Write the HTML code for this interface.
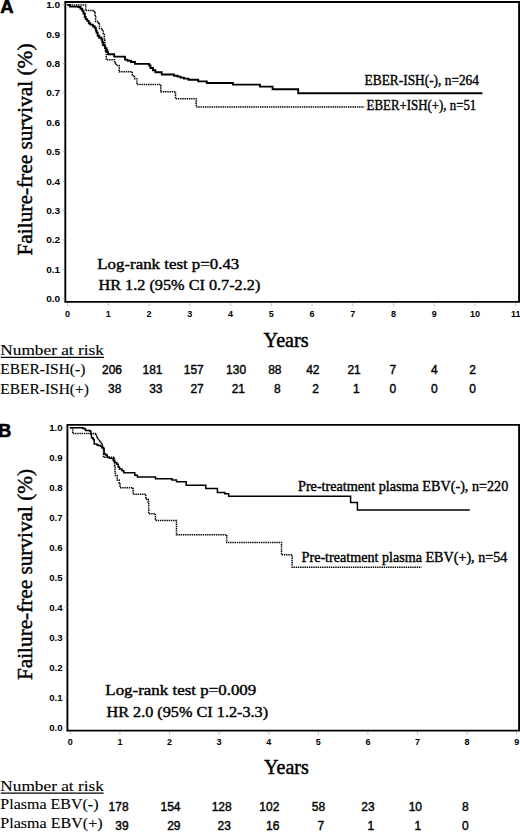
<!DOCTYPE html>
<html><head><meta charset="utf-8"><style>
html,body{margin:0;padding:0;background:#fff;}
body{width:520px;height:832px;overflow:hidden;}
svg{display:block;}
.tk{font-family:'Liberation Sans', sans-serif;font-weight:bold;font-size:9px;fill:#000;}
.tm{stroke:#aaa;stroke-width:0.8;}
.sf{font-family:'Liberation Serif', serif;fill:#000;stroke:#000;stroke-width:0.4;}
.st{stroke-width:0.45;}
.tl{stroke-width:0.12;}
.nr{font-family:'Liberation Sans', sans-serif;font-size:12px;fill:#000;stroke:#000;stroke-width:0.4;}
.fr{fill:none;stroke:#000;stroke-width:1.9;}
.sol{fill:none;stroke:#000;stroke-width:1.9;}
.dsh{fill:none;stroke:#000;stroke-width:1.5;stroke-dasharray:1.4 0.8;}
</style></head><body>
<svg width="520" height="832" viewBox="0 0 520 832">
<rect width="520" height="832" fill="#fff"/>
<!-- Panel A -->
<text x="0.2" y="12.6" style="font-family:'Liberation Sans', sans-serif;font-weight:bold;font-size:18.5px;fill:#000;stroke:#000;stroke-width:0.6">A</text>
<path class="fr" d="M65.3 301.9V2H519.1V301.9Z"/>
<text x="60.2" y="302.1" text-anchor="end" class="tk" textLength="14.0" lengthAdjust="spacingAndGlyphs">0.0</text>
<line x1="62.4" y1="298.7" x2="64.8" y2="298.7" class="tm"/>
<text x="60.2" y="272.7" text-anchor="end" class="tk" textLength="14.0" lengthAdjust="spacingAndGlyphs">0.1</text>
<line x1="62.4" y1="269.3" x2="64.8" y2="269.3" class="tm"/>
<text x="60.2" y="243.3" text-anchor="end" class="tk" textLength="14.0" lengthAdjust="spacingAndGlyphs">0.2</text>
<line x1="62.4" y1="239.9" x2="64.8" y2="239.9" class="tm"/>
<text x="60.2" y="214.0" text-anchor="end" class="tk" textLength="14.0" lengthAdjust="spacingAndGlyphs">0.3</text>
<line x1="62.4" y1="210.6" x2="64.8" y2="210.6" class="tm"/>
<text x="60.2" y="184.6" text-anchor="end" class="tk" textLength="14.0" lengthAdjust="spacingAndGlyphs">0.4</text>
<line x1="62.4" y1="181.2" x2="64.8" y2="181.2" class="tm"/>
<text x="60.2" y="155.2" text-anchor="end" class="tk" textLength="14.0" lengthAdjust="spacingAndGlyphs">0.5</text>
<line x1="62.4" y1="151.8" x2="64.8" y2="151.8" class="tm"/>
<text x="60.2" y="125.8" text-anchor="end" class="tk" textLength="14.0" lengthAdjust="spacingAndGlyphs">0.6</text>
<line x1="62.4" y1="122.4" x2="64.8" y2="122.4" class="tm"/>
<text x="60.2" y="96.4" text-anchor="end" class="tk" textLength="14.0" lengthAdjust="spacingAndGlyphs">0.7</text>
<line x1="62.4" y1="93.0" x2="64.8" y2="93.0" class="tm"/>
<text x="60.2" y="67.1" text-anchor="end" class="tk" textLength="14.0" lengthAdjust="spacingAndGlyphs">0.8</text>
<line x1="62.4" y1="63.7" x2="64.8" y2="63.7" class="tm"/>
<text x="60.2" y="37.7" text-anchor="end" class="tk" textLength="14.0" lengthAdjust="spacingAndGlyphs">0.9</text>
<line x1="62.4" y1="34.3" x2="64.8" y2="34.3" class="tm"/>
<text x="60.2" y="8.3" text-anchor="end" class="tk" textLength="14.0" lengthAdjust="spacingAndGlyphs">1.0</text>
<line x1="62.4" y1="4.9" x2="64.8" y2="4.9" class="tm"/>
<text x="67.6" y="316.8" text-anchor="middle" class="tk">0</text>
<line x1="67.6" y1="303.4" x2="67.6" y2="305.9" class="tm"/>
<text x="108.3" y="316.8" text-anchor="middle" class="tk">1</text>
<line x1="108.3" y1="303.4" x2="108.3" y2="305.9" class="tm"/>
<text x="149.1" y="316.8" text-anchor="middle" class="tk">2</text>
<line x1="149.1" y1="303.4" x2="149.1" y2="305.9" class="tm"/>
<text x="189.8" y="316.8" text-anchor="middle" class="tk">3</text>
<line x1="189.8" y1="303.4" x2="189.8" y2="305.9" class="tm"/>
<text x="230.6" y="316.8" text-anchor="middle" class="tk">4</text>
<line x1="230.6" y1="303.4" x2="230.6" y2="305.9" class="tm"/>
<text x="271.3" y="316.8" text-anchor="middle" class="tk">5</text>
<line x1="271.3" y1="303.4" x2="271.3" y2="305.9" class="tm"/>
<text x="312.0" y="316.8" text-anchor="middle" class="tk">6</text>
<line x1="312.0" y1="303.4" x2="312.0" y2="305.9" class="tm"/>
<text x="352.8" y="316.8" text-anchor="middle" class="tk">7</text>
<line x1="352.8" y1="303.4" x2="352.8" y2="305.9" class="tm"/>
<text x="393.5" y="316.8" text-anchor="middle" class="tk">8</text>
<line x1="393.5" y1="303.4" x2="393.5" y2="305.9" class="tm"/>
<text x="434.3" y="316.8" text-anchor="middle" class="tk">9</text>
<line x1="434.3" y1="303.4" x2="434.3" y2="305.9" class="tm"/>
<text x="475.0" y="316.8" text-anchor="middle" class="tk">10</text>
<line x1="475.0" y1="303.4" x2="475.0" y2="305.9" class="tm"/>
<text x="515.7" y="316.8" text-anchor="middle" class="tk">11</text>
<line x1="515.7" y1="303.4" x2="515.7" y2="305.9" class="tm"/>
<path class="sol" d="M67.2 4.9H70.0V6.6H78.5V7.0H80.5V8.8H82.2V10.8H83.5V13.5H84.8V17.0H85.7V19.1H87.2V20.9H88.8V23.2H90.3V24.6H92.8V26.2H94.6V27.7H95.8V30.5H96.6V32.7H97.7V35.8H99.2V37.7H101.5V39.6H102.3V42.3H103.1V45.4H105.0V48.1H106.5V50.2H107.3V52.3H108.1V54.3H114.2V56.6H125.0V59.6H127.5V60.8H131.0V62.0H135.0V63.9H149.2V65.5H150.5V68.0H153.0V70.2H155.4V72.3H161.8V74.5H174.0V75.8H177.7V76.6H180.5V77.6H184.0V78.6H188.5V79.7H198.2V81.4H206.8V83.0H233.0V84.6H260.0V86.6H272.6V89.2H298.2V93.2H482.4"/>
<path class="dsh" d="M67.2 4.9H85.7V10.6H94.3V12.5H95.0V16.5H95.6V21.5H98.5V23.3H99.4V28.5H102.3V30.0H103.3V34.6H104.3V40.0H104.8V46.0H105.4V51.0H106.2V59.7H114.6V63.0H116.2V65.4H119.2V71.8H132.3V75.7H134.6V78.8H136.9V84.6H160.8V91.8H175.5V98.8H196.2V106.9H364.2"/>
<text class="sf" x="364.6" y="85.0" font-size="14.8" textLength="114.4" lengthAdjust="spacingAndGlyphs">EBER-ISH(-), n=264</text>
<text class="sf" x="366.6" y="109.6" font-size="14.8" textLength="109.7" lengthAdjust="spacingAndGlyphs">EBER+ISH(+), n=51</text>
<text class="sf" x="97.3" y="269.1" font-size="15" textLength="142" lengthAdjust="spacingAndGlyphs">Log-rank test p=0.43</text>
<text class="sf" x="98.5" y="289.8" font-size="15" textLength="161.8" lengthAdjust="spacingAndGlyphs">HR 1.2 (95% CI 0.7-2.2)</text>
<text class="sf st" transform="translate(31.6 255.5) rotate(-90)" x="0" y="0" font-size="21.5" textLength="212" lengthAdjust="spacingAndGlyphs">Failure-free survival (%)</text>
<text class="sf st" x="263.6" y="347.4" font-size="20" textLength="45" lengthAdjust="spacingAndGlyphs">Years</text>
<text class="sf tl" x="0.3" y="355.3" font-size="14.8" textLength="103.6" lengthAdjust="spacingAndGlyphs">Number at risk</text>
<line x1="0.8" y1="357.4" x2="104.0" y2="357.4" stroke="#000" stroke-width="1.2"/>
<text class="sf tl" x="0.3" y="373.6" font-size="14.8" textLength="85" lengthAdjust="spacingAndGlyphs">EBER-ISH(-)</text>
<text class="sf tl" x="0.3" y="394.0" font-size="14.8" textLength="88.6" lengthAdjust="spacingAndGlyphs">EBER-ISH(+)</text>
<text x="122.0" y="374.1" text-anchor="end" class="nr">206</text>
<text x="162.5" y="374.1" text-anchor="end" class="nr">181</text>
<text x="203.8" y="374.1" text-anchor="end" class="nr">157</text>
<text x="246.1" y="374.1" text-anchor="end" class="nr">130</text>
<text x="281.5" y="374.1" text-anchor="end" class="nr">88</text>
<text x="319.5" y="374.1" text-anchor="end" class="nr">42</text>
<text x="360.8" y="374.1" text-anchor="end" class="nr">21</text>
<text x="396.2" y="374.1" text-anchor="end" class="nr">7</text>
<text x="437.8" y="374.1" text-anchor="end" class="nr">4</text>
<text x="475.9" y="374.1" text-anchor="end" class="nr">2</text>
<text x="121.4" y="393.2" text-anchor="end" class="nr">38</text>
<text x="162.5" y="393.2" text-anchor="end" class="nr">33</text>
<text x="203.8" y="393.2" text-anchor="end" class="nr">27</text>
<text x="245.0" y="393.2" text-anchor="end" class="nr">21</text>
<text x="280.8" y="393.2" text-anchor="end" class="nr">8</text>
<text x="318.9" y="393.2" text-anchor="end" class="nr">2</text>
<text x="359.7" y="393.2" text-anchor="end" class="nr">1</text>
<text x="396.2" y="393.2" text-anchor="end" class="nr">0</text>
<text x="437.8" y="393.2" text-anchor="end" class="nr">0</text>
<text x="475.9" y="393.2" text-anchor="end" class="nr">0</text>
<!-- Panel B -->
<text x="-1.8" y="437" style="font-family:'Liberation Sans', sans-serif;font-weight:bold;font-size:18px;fill:#000;stroke:#000;stroke-width:0.6">B</text>
<path class="fr" d="M67.4 730.6V424.9H519.1V730.6Z"/>
<text x="62.6" y="730.5" text-anchor="end" class="tk" textLength="13.4" lengthAdjust="spacingAndGlyphs">0.0</text>
<line x1="64.8" y1="727.1" x2="67.2" y2="727.1" class="tm"/>
<text x="62.6" y="700.6" text-anchor="end" class="tk" textLength="13.4" lengthAdjust="spacingAndGlyphs">0.1</text>
<line x1="64.8" y1="697.2" x2="67.2" y2="697.2" class="tm"/>
<text x="62.6" y="670.7" text-anchor="end" class="tk" textLength="13.4" lengthAdjust="spacingAndGlyphs">0.2</text>
<line x1="64.8" y1="667.3" x2="67.2" y2="667.3" class="tm"/>
<text x="62.6" y="640.8" text-anchor="end" class="tk" textLength="13.4" lengthAdjust="spacingAndGlyphs">0.3</text>
<line x1="64.8" y1="637.4" x2="67.2" y2="637.4" class="tm"/>
<text x="62.6" y="610.9" text-anchor="end" class="tk" textLength="13.4" lengthAdjust="spacingAndGlyphs">0.4</text>
<line x1="64.8" y1="607.5" x2="67.2" y2="607.5" class="tm"/>
<text x="62.6" y="580.9" text-anchor="end" class="tk" textLength="13.4" lengthAdjust="spacingAndGlyphs">0.5</text>
<line x1="64.8" y1="577.5" x2="67.2" y2="577.5" class="tm"/>
<text x="62.6" y="551.0" text-anchor="end" class="tk" textLength="13.4" lengthAdjust="spacingAndGlyphs">0.6</text>
<line x1="64.8" y1="547.6" x2="67.2" y2="547.6" class="tm"/>
<text x="62.6" y="521.1" text-anchor="end" class="tk" textLength="13.4" lengthAdjust="spacingAndGlyphs">0.7</text>
<line x1="64.8" y1="517.7" x2="67.2" y2="517.7" class="tm"/>
<text x="62.6" y="491.2" text-anchor="end" class="tk" textLength="13.4" lengthAdjust="spacingAndGlyphs">0.8</text>
<line x1="64.8" y1="487.8" x2="67.2" y2="487.8" class="tm"/>
<text x="62.6" y="461.3" text-anchor="end" class="tk" textLength="13.4" lengthAdjust="spacingAndGlyphs">0.9</text>
<line x1="64.8" y1="457.9" x2="67.2" y2="457.9" class="tm"/>
<text x="62.6" y="431.4" text-anchor="end" class="tk" textLength="13.4" lengthAdjust="spacingAndGlyphs">1.0</text>
<line x1="64.8" y1="428.0" x2="67.2" y2="428.0" class="tm"/>
<text x="70.3" y="745.4" text-anchor="middle" class="tk">0</text>
<line x1="70.3" y1="732.1" x2="70.3" y2="734.6" class="tm"/>
<text x="119.9" y="745.4" text-anchor="middle" class="tk">1</text>
<line x1="119.9" y1="732.1" x2="119.9" y2="734.6" class="tm"/>
<text x="169.5" y="745.4" text-anchor="middle" class="tk">2</text>
<line x1="169.5" y1="732.1" x2="169.5" y2="734.6" class="tm"/>
<text x="219.1" y="745.4" text-anchor="middle" class="tk">3</text>
<line x1="219.1" y1="732.1" x2="219.1" y2="734.6" class="tm"/>
<text x="268.7" y="745.4" text-anchor="middle" class="tk">4</text>
<line x1="268.7" y1="732.1" x2="268.7" y2="734.6" class="tm"/>
<text x="318.3" y="745.4" text-anchor="middle" class="tk">5</text>
<line x1="318.3" y1="732.1" x2="318.3" y2="734.6" class="tm"/>
<text x="367.9" y="745.4" text-anchor="middle" class="tk">6</text>
<line x1="367.9" y1="732.1" x2="367.9" y2="734.6" class="tm"/>
<text x="417.5" y="745.4" text-anchor="middle" class="tk">7</text>
<line x1="417.5" y1="732.1" x2="417.5" y2="734.6" class="tm"/>
<text x="467.1" y="745.4" text-anchor="middle" class="tk">8</text>
<line x1="467.1" y1="732.1" x2="467.1" y2="734.6" class="tm"/>
<text x="516.7" y="745.4" text-anchor="middle" class="tk">9</text>
<line x1="516.7" y1="732.1" x2="516.7" y2="734.6" class="tm"/>
<path class="sol" style="stroke-width:1.5" d="M69.9 427.8H83.0V428.4H85.0V429.4H85.8V430.5H89.6V431.0H90.8V434.0H91.5V437.8H93.1V439.4H94.2V444.0H96.9V445.0H98.3V445.5H100.6V446.3H101.8V447.8H103.5V448.7H104.1V453.8H105.5V455.0H107.3V457.3H109.3V458.2H111.6V458.5H113.3V460.8H114.5V462.5H116.8V464.2H118.2V467.1H119.5V468.9H122.0V470.8H123.8V472.8H134.8V475.3H137.4V477.0H155.5V478.8H172.0V480.0H176.5V481.8H186.2V485.2H205.8V488.6H217.4V492.4H224.8V493.8H228.7V496.2H350.6V502.6H357.4V510.0H469.8"/>
<path class="dsh" d="M69.9 427.8H72.7V433.6H95.4V434.2H96.5V435.5H96.9V438.2H98.5V439.4H99.6V440.9H100.4V443.2H102.3V446.3H103.5V457.3H114.5V460.5H114.6V466.0H115.0V472.3H115.4V475.4H117.2V480.0H119.2V483.0H120.0V487.7H133.1V494.2H145.8V499.2H148.2V502.1H148.7V513.7H155.4V520.4H176.5V534.8H226.7V542.5H281.5V554.8H292.1V567.2H421.5"/>
<text class="sf" x="298.0" y="490.8" font-size="14.8" textLength="210.3" lengthAdjust="spacingAndGlyphs">Pre-treatment plasma EBV(-), n=220</text>
<text class="sf" x="301.6" y="562.0" font-size="14.8" textLength="205.7" lengthAdjust="spacingAndGlyphs">Pre-treatment plasma EBV(+), n=54</text>
<text class="sf" x="105.3" y="694.9" font-size="15" textLength="151" lengthAdjust="spacingAndGlyphs">Log-rank test p=0.009</text>
<text class="sf" x="106.5" y="717.4" font-size="15" textLength="161.6" lengthAdjust="spacingAndGlyphs">HR 2.0 (95% CI 1.2-3.3)</text>
<text class="sf st" transform="translate(31.7 680) rotate(-90)" x="0" y="0" font-size="21.5" textLength="211" lengthAdjust="spacingAndGlyphs">Failure-free survival (%)</text>
<text class="sf st" x="264.1" y="774.2" font-size="20" textLength="44.6" lengthAdjust="spacingAndGlyphs">Years</text>
<text class="sf tl" x="0.3" y="790.7" font-size="14.8" textLength="103.6" lengthAdjust="spacingAndGlyphs">Number at risk</text>
<line x1="0.8" y1="793.2" x2="103.6" y2="793.2" stroke="#000" stroke-width="1.2"/>
<text class="sf tl" x="0.3" y="809.3" font-size="14.8" textLength="98.2" lengthAdjust="spacingAndGlyphs">Plasma EBV(-)</text>
<text class="sf tl" x="0.3" y="828.2" font-size="14.8" textLength="102.3" lengthAdjust="spacingAndGlyphs">Plasma EBV(+)</text>
<text x="128.6" y="810.8" text-anchor="end" class="nr">178</text>
<text x="180.5" y="810.8" text-anchor="end" class="nr">154</text>
<text x="231.7" y="810.8" text-anchor="end" class="nr">128</text>
<text x="279.4" y="810.8" text-anchor="end" class="nr">102</text>
<text x="325.2" y="810.8" text-anchor="end" class="nr">58</text>
<text x="374.7" y="810.8" text-anchor="end" class="nr">23</text>
<text x="422.0" y="810.8" text-anchor="end" class="nr">10</text>
<text x="468.8" y="810.8" text-anchor="end" class="nr">8</text>
<text x="128.6" y="829.6" text-anchor="end" class="nr">39</text>
<text x="180.5" y="829.6" text-anchor="end" class="nr">29</text>
<text x="230.9" y="829.6" text-anchor="end" class="nr">23</text>
<text x="279.4" y="829.6" text-anchor="end" class="nr">16</text>
<text x="324.3" y="829.6" text-anchor="end" class="nr">7</text>
<text x="374.2" y="829.6" text-anchor="end" class="nr">1</text>
<text x="421.1" y="829.6" text-anchor="end" class="nr">1</text>
<text x="468.8" y="829.6" text-anchor="end" class="nr">0</text>
</svg>
</body></html>
